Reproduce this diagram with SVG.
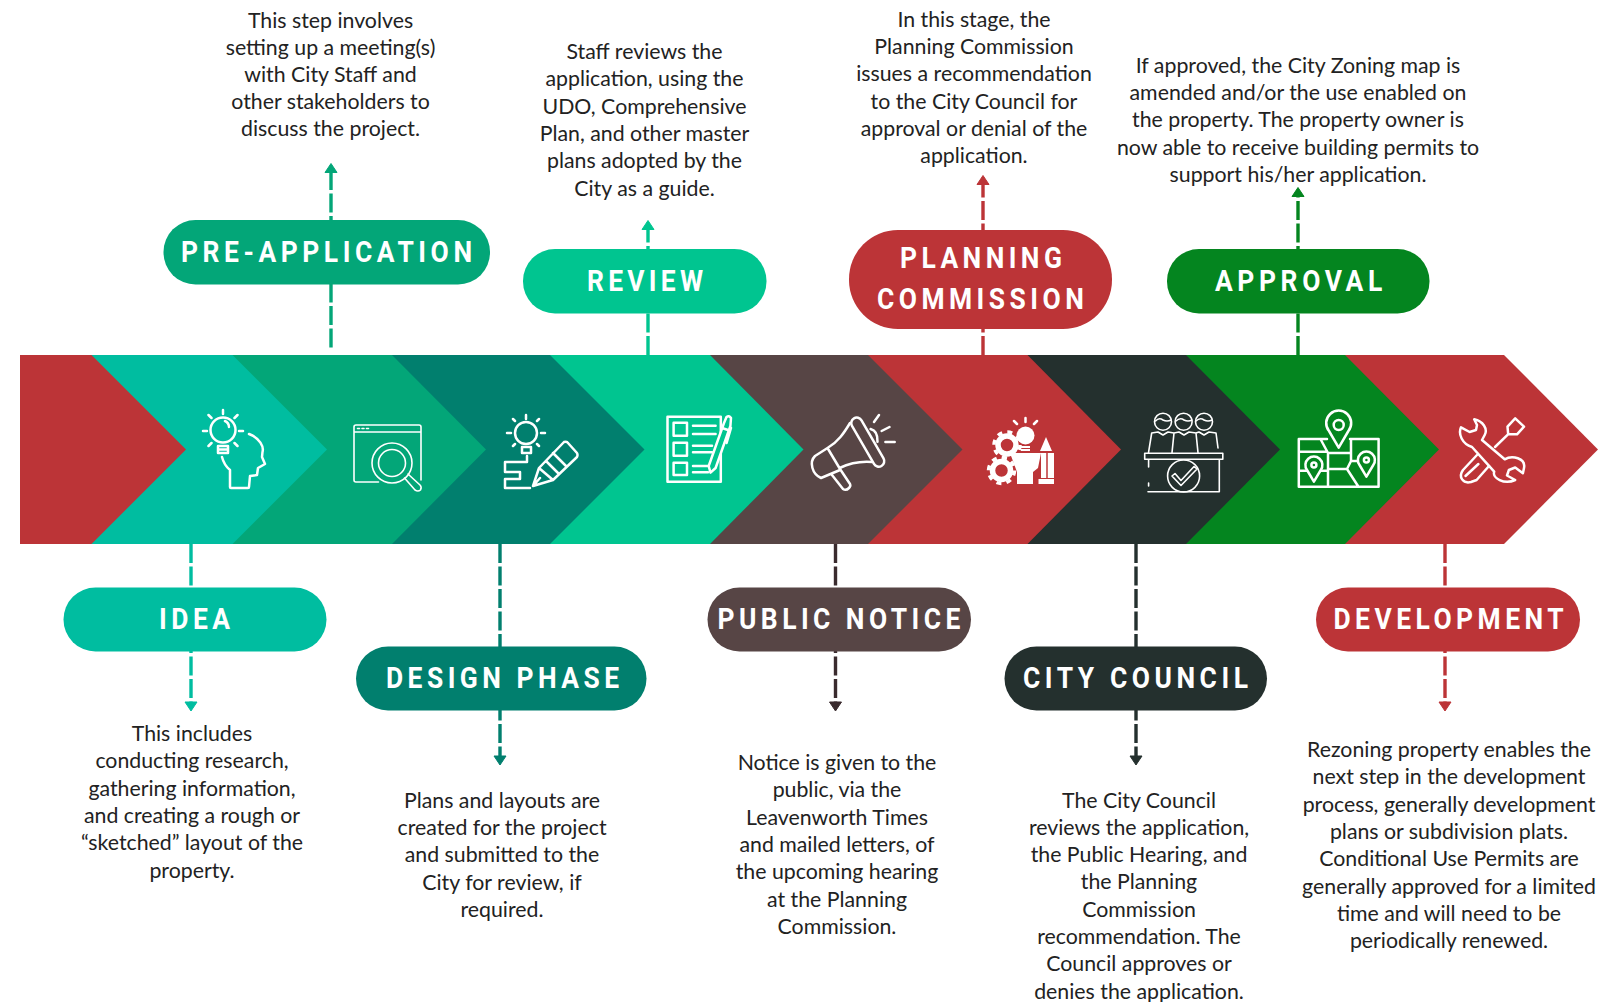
<svg xmlns="http://www.w3.org/2000/svg" width="1609" height="1002" viewBox="0 0 1609 1002">
<defs>
<marker id="a-teal" markerUnits="userSpaceOnUse" markerWidth="14" markerHeight="15" refX="1" refY="7.500" orient="auto"><path class="h" d="M1 1.500L10 7.500L1 13.500Z" fill="#00BDA0" stroke="#00BDA0"/></marker>
<marker id="a-green" markerUnits="userSpaceOnUse" markerWidth="14" markerHeight="15" refX="1" refY="7.500" orient="auto"><path class="h" d="M1 1.500L10 7.500L1 13.500Z" fill="#03A678" stroke="#03A678"/></marker>
<marker id="a-dteal" markerUnits="userSpaceOnUse" markerWidth="14" markerHeight="15" refX="1" refY="7.500" orient="auto"><path class="h" d="M1 1.500L10 7.500L1 13.500Z" fill="#017F6E" stroke="#017F6E"/></marker>
<marker id="a-lgreen" markerUnits="userSpaceOnUse" markerWidth="14" markerHeight="15" refX="1" refY="7.500" orient="auto"><path class="h" d="M1 1.500L10 7.500L1 13.500Z" fill="#00C590" stroke="#00C590"/></marker>
<marker id="a-brown" markerUnits="userSpaceOnUse" markerWidth="14" markerHeight="15" refX="1" refY="7.500" orient="auto"><path class="h" d="M1 1.500L10 7.500L1 13.500Z" fill="#3A2B2E" stroke="#3A2B2E"/></marker>
<marker id="a-red" markerUnits="userSpaceOnUse" markerWidth="14" markerHeight="15" refX="1" refY="7.500" orient="auto"><path class="h" d="M1 1.500L10 7.500L1 13.500Z" fill="#BC3437" stroke="#BC3437"/></marker>
<marker id="a-dark" markerUnits="userSpaceOnUse" markerWidth="14" markerHeight="15" refX="1" refY="7.500" orient="auto"><path class="h" d="M1 1.500L10 7.500L1 13.500Z" fill="#24302E" stroke="#24302E"/></marker>
<marker id="a-fgreen" markerUnits="userSpaceOnUse" markerWidth="14" markerHeight="15" refX="1" refY="7.500" orient="auto"><path class="h" d="M1 1.500L10 7.500L1 13.500Z" fill="#04851F" stroke="#04851F"/></marker>
</defs>
<style>
.h{stroke-width:1;stroke-linejoin:round}
.c{fill:none;stroke-width:3.400;stroke-dasharray:19 3.500}
.l{font-family:Roboto,"Liberation Sans",sans-serif;font-weight:700;font-size:30px;fill:#fff}
.b{font-family:Lato,"Liberation Sans",sans-serif;font-size:21.300px;fill:#222;text-anchor:middle}
.i{fill:none;stroke:#fff;stroke-width:2.500;stroke-linecap:round;stroke-linejoin:round}
.t{stroke-width:1.600}
.w{fill:#fff;stroke:none}
</style>
<rect width="1609" height="1002" fill="#fff"/>
<g id="band">
<polygon points="20,355 1504,355 1598,449.500 1504,544 20,544" fill="#BC3437"/>
<polygon points="20,355 1345,355 1439,449.500 1345,544 20,544" fill="#04851F"/>
<polygon points="20,355 1186,355 1280,449.500 1186,544 20,544" fill="#24302E"/>
<polygon points="20,355 1027.500,355 1121,449.500 1027.500,544 20,544" fill="#BC3437"/>
<polygon points="20,355 868,355 962.500,449.500 868,544 20,544" fill="#574545"/>
<polygon points="20,355 710,355 803.500,449.500 710,544 20,544" fill="#00C590"/>
<polygon points="20,355 550,355 644.500,449.500 550,544 20,544" fill="#017F6E"/>
<polygon points="20,355 392,355 486,449.500 392,544 20,544" fill="#03A678"/>
<polygon points="20,355 232.500,355 327,449.500 232.500,544 20,544" fill="#00BDA0"/>
<polygon points="20,355 91.500,355 186,449.500 91.500,544 20,544" fill="#BC3437"/>
</g>
<g id="connectors">
<line class="c" x1="191" y1="544" x2="191" y2="702" stroke="#00BDA0" marker-end="url(#a-teal)"/>
<line class="c" x1="331" y1="347.500" x2="331" y2="172.500" stroke="#03A678" marker-end="url(#a-green)"/>
<line class="c" x1="500" y1="544" x2="500" y2="756" stroke="#017F6E" marker-end="url(#a-dteal)"/>
<line class="c" x1="648" y1="355" x2="648" y2="229.500" stroke="#00C590" marker-end="url(#a-lgreen)"/>
<line class="c" x1="835.500" y1="544" x2="835.500" y2="702" stroke="#3A2B2E" marker-end="url(#a-brown)"/>
<line class="c" x1="983" y1="355" x2="983" y2="184.500" stroke="#BC3437" marker-end="url(#a-red)"/>
<line class="c" x1="1136" y1="544" x2="1136" y2="756" stroke="#24302E" marker-end="url(#a-dark)"/>
<line class="c" x1="1298" y1="355" x2="1298" y2="196.500" stroke="#04851F" marker-end="url(#a-fgreen)"/>
<line class="c" x1="1445" y1="544" x2="1445" y2="702" stroke="#BC3437" marker-end="url(#a-red)"/>
</g>
<g id="idea">
<rect x="63.500" y="587.500" width="263" height="64" rx="32" fill="#00BDA0"/>
<text class="l" transform="translate(159 629) scale(.88 1)" textLength="80.700">IDEA</text>
<g class="i"><circle cx="223" cy="430" r="12.500"/><path d="M218 446h10v7h-10zM218 449.500h10M225 421a7 7 0 0 1 4 6M223 410v4M207 431h-4M239 431h4M211.500 418l-3-3M234.500 418l3-3M211.500 443l-3 3M234.500 443l3 3M249 434C260 438 264 447 262.500 452L262 457L265 464L258 468L257 475L250 476L249 487Q249 488 248 488H231Q230 488 230 487V470Q224 465 222 457"/></g>
<text class="b" x="192" y="741">This includes<tspan x="192" dy="27.350">conducting research,</tspan><tspan x="192" dy="27.350">gathering information,</tspan><tspan x="192" dy="27.350">and creating a rough or</tspan><tspan x="192" dy="27.350">“sketched” layout of the</tspan><tspan x="192" dy="27.350">property.</tspan></text>
</g>
<g id="pre-application">
<rect x="163.500" y="220" width="326.500" height="64.500" rx="32" fill="#03A678"/>
<text class="l" transform="translate(181 262) scale(.88 1)" textLength="330.700">PRE-APPLICATION</text>
<g class="i t"><path d="M378.500 482H356Q354 482 354 480V427Q354 425 356 425H419Q421 425 421 427V480M354 432H421M357.500 428.500h2M362 428.500h2M366.500 428.500h2"/><circle cx="392" cy="463" r="20"/><circle cx="392" cy="463" r="13.500"/><path d="M404.500 478L415 490Q418 492 420.500 490Q422 487 420 485L408 474"/></g>
<text class="b" x="330.500" y="27.500">This step involves<tspan x="330.500" dy="27.200">setting up a meeting(s)</tspan><tspan x="330.500" dy="27.200">with City Staff and</tspan><tspan x="330.500" dy="27.200">other stakeholders to</tspan><tspan x="330.500" dy="27.200">discuss the project.</tspan></text>
</g>
<g id="design-phase">
<rect x="356" y="646.500" width="290.500" height="64" rx="32" fill="#017F6E"/>
<text class="l" transform="translate(386 688) scale(.88 1)" textLength="264.800">DESIGN PHASE</text>
<g class="i"><circle cx="526" cy="433" r="11"/><path d="M522 447h9v6h-9zM526 415v4M511 433h-4M541 433h4M515 421l-2-2M537 421l2-2M515 444l-2 2M537 444l2 2M527 456v6H505v10h15v7H505v9h25M533 486L539 468L564 442Q567 441 568 443L577 453Q578 455 577 457L553 480ZM533 486L540 478M539 468L553 480M546 461L558 473M553 453L566 466"/></g>
<text class="b" x="502" y="807.500">Plans and layouts are<tspan x="502" dy="27.350">created for the project</tspan><tspan x="502" dy="27.350">and submitted to the</tspan><tspan x="502" dy="27.350">City for review, if</tspan><tspan x="502" dy="27.350">required.</tspan></text>
</g>
<g id="review">
<rect x="523" y="249" width="243.500" height="64.500" rx="32" fill="#00C590"/>
<text class="l" transform="translate(587 291) scale(.88 1)" textLength="131.800">REVIEW</text>
<g class="i" stroke-width="2"><path d="M667.500 416.700H720.800V481.700H667.500ZM673.600 422.700H687V435.700H673.600ZM673.600 442.700H687V455.700H673.600ZM673.600 462.700H687V475H673.600ZM693 425.700H715.600M693 434H715.600M693 445.700H712M693 452.300H712M693 466H708M693 472.300H708"/><path fill="#00C590" d="M708.700 466L724 423L726.500 417Q729 415 731 418L730.400 426L715.600 468L710.500 472.700Z"/><path d="M731 428L726.600 443M722 428L728 430"/></g>
<text class="b" x="644.500" y="59">Staff reviews the<tspan x="644.500" dy="27.350">application, using the</tspan><tspan x="644.500" dy="27.350">UDO, Comprehensive</tspan><tspan x="644.500" dy="27.350">Plan, and other master</tspan><tspan x="644.500" dy="27.350">plans adopted by the</tspan><tspan x="644.500" dy="27.350">City as a guide.</tspan></text>
</g>
<g id="public-notice">
<rect x="707.500" y="587.500" width="263.500" height="64" rx="32" fill="#574545"/>
<text class="l" transform="translate(717.500 629) scale(.88 1)" textLength="276">PUBLIC NOTICE</text>
<g class="i" stroke-width="3"><path d="M850 423C844 433 838 442 827.500 448M872 462C860 461 850 463 839.600 468M827.500 448L840 469M827.500 448L815 456C809 462 812 474 821 478L840 470M832 475L843 489Q846 491 849 488Q851 486 850 484L840 469M870.600 429Q878 431 877.500 441.700M874 422L879 415M881.600 431L889.500 427M885.400 442H894.700"/><rect x="861" y="415" width="11" height="55" rx="5.500" transform="rotate(-30 866.500 440)"/></g>
<text class="b" x="837" y="770">Notice is given to the<tspan x="837" dy="27.350">public, via the</tspan><tspan x="837" dy="27.350">Leavenworth Times</tspan><tspan x="837" dy="27.350">and mailed letters, of</tspan><tspan x="837" dy="27.350">the upcoming hearing</tspan><tspan x="837" dy="27.350">at the Planning</tspan><tspan x="837" dy="27.350">Commission.</tspan></text>
</g>
<g id="planning-commission">
<rect x="849" y="230" width="263" height="99" rx="49" fill="#BC3437"/>
<text class="l" transform="translate(900 268) scale(.88 1)" textLength="184">PLANNING</text>
<text class="l" transform="translate(877 309) scale(.88 1)" textLength="235">COMMISSION</text>
<circle cx="1007" cy="445" r="9" fill="none" stroke="#fff" stroke-width="5.500"/><circle cx="1007" cy="445" r="13" fill="none" stroke="#fff" stroke-width="3.500" stroke-dasharray="5 5.200"/>
<circle cx="1001.500" cy="470.500" r="9" fill="none" stroke="#fff" stroke-width="5.500"/><circle cx="1001.500" cy="470.500" r="13" fill="none" stroke="#fff" stroke-width="3.500" stroke-dasharray="5 5.200"/>
<circle class="w" cx="1025.500" cy="435.500" r="9"/>
<path class="w" d="M1021 446h9v2h-9zM1021 449h9v2h-9zM1010 453H1041L1038 468L1033 472V484H1017V472ZM1046 437L1040 451H1052ZM1041 453H1054V478H1041ZM1038.500 479H1054V484H1038.500Z"/>
<path class="i" d="M1025.500 418v4M1014 421l3 3M1037 421l-3 3"/>
<path d="M1047 453V478" stroke="#BC3437" stroke-width="1.500"/>
<text class="b" x="974" y="27">In this stage, the<tspan x="974" dy="27.200">Planning Commission</tspan><tspan x="974" dy="27.200">issues a recommendation</tspan><tspan x="974" dy="27.200">to the City Council for</tspan><tspan x="974" dy="27.200">approval or denial of the</tspan><tspan x="974" dy="27.200">application.</tspan></text>
</g>
<g id="city-council">
<rect x="1004.500" y="646.500" width="262.500" height="64" rx="32" fill="#24302E"/>
<text class="l" transform="translate(1023 688) scale(.88 1)" textLength="255.700">CITY COUNCIL</text>
<g class="i t"><circle cx="1163" cy="421.700" r="8.500"/><circle cx="1183.600" cy="421.700" r="8.500"/><circle cx="1204" cy="421.700" r="8.500"/><path d="M1155.500 421Q1159 417 1163 420Q1167 422 1171 420M1176 421Q1180 417 1184 420Q1188 422 1192 420M1196 421Q1200 417 1204 420Q1208 422 1212 420M1148.500 452.700L1151.700 433L1158 432L1163 435L1168 432L1174 433L1172 452.700M1174 433L1179 432L1184 435L1189 432L1196 433L1198 452.700M1196 433L1199 432L1204 435L1209 432L1216 433L1218 448M1144.700 453.300H1222.800V459.300H1144.700ZM1148.600 460V467M1148.600 483V486M1148 491.700H1219.300V460"/><circle cx="1183.600" cy="476" r="16"/><path d="M1175 473.500L1181 480.500L1194 466.500L1197 469L1181 485.500L1172 476Z"/></g>
<text class="b" x="1139" y="807.500">The City Council<tspan x="1139" dy="27.300">reviews the application,</tspan><tspan x="1139" dy="27.300">the Public Hearing, and</tspan><tspan x="1139" dy="27.300">the Planning</tspan><tspan x="1139" dy="27.300">Commission</tspan><tspan x="1139" dy="27.300">recommendation. The</tspan><tspan x="1139" dy="27.300">Council approves or</tspan><tspan x="1139" dy="27.300">denies the application.</tspan></text>
</g>
<g id="approval">
<rect x="1167" y="249" width="262.500" height="64.500" rx="32" fill="#04851F"/>
<text class="l" transform="translate(1215 291) scale(.88 1)" textLength="190">APPROVAL</text>
<g class="i"><path d="M1327 439H1298.800V486.700H1378.600V439H1350M1298.800 451.700H1326M1321 440L1328 453V486M1328 453H1350M1351 440V461L1347 469H1328M1347 469L1358 486M1351 461H1359M1298.800 470.700H1328"/><path fill="#04851F" d="M1338.700 447.700L1329 431A12.500 12.500 0 1 1 1348.400 431Z"/><circle cx="1338.700" cy="425" r="5"/><path fill="#04851F" d="M1313.900 481.700L1307 470A8.500 8.500 0 1 1 1320.800 470Z"/><circle cx="1313.900" cy="465" r="2.500"/><path fill="#04851F" d="M1366.400 476.700L1359.500 465A8.500 8.500 0 1 1 1373.300 465Z"/><circle cx="1366.400" cy="460" r="2.500"/></g>
<text class="b" x="1298" y="72.700">If approved, the City Zoning map is<tspan x="1298" dy="27.300">amended and/or the use enabled on</tspan><tspan x="1298" dy="27.300">the property. The property owner is</tspan><tspan x="1298" dy="27.300">now able to receive building permits to</tspan><tspan x="1298" dy="27.300">support his/her application.</tspan></text>
</g>
<g id="development">
<rect x="1316" y="587.500" width="264" height="64" rx="32" fill="#BC3437"/>
<text class="l" transform="translate(1333.500 629) scale(.88 1)" textLength="261.400">DEVELOPMENT</text>
<g class="i"><path d="M1474.200 419.300C1483 421 1488 429 1484.700 435L1482 440L1504.700 459.300C1512 455 1526 458 1524 468L1522.900 473.300L1515.200 467.500L1508.900 470L1507 475.500L1515.200 480C1504 485 1492 478 1494.200 471.700L1472 447C1462 444 1458 434 1461 427.300L1469.600 432L1476 430L1477 425Z"/><path d="M1508 434.300L1495 447M1477 455L1463 470C1458 477 1463 484 1471 482L1476.600 480L1489 466M1465.500 476L1478.400 464M1515.200 418.300L1524 426.700L1517 434.300H1508.200L1507.500 426.700Z"/></g>
<text class="b" x="1449" y="757">Rezoning property enables the<tspan x="1449" dy="27.300">next step in the development</tspan><tspan x="1449" dy="27.300">process, generally development</tspan><tspan x="1449" dy="27.300">plans or subdivision plats.</tspan><tspan x="1449" dy="27.300">Conditional Use Permits are</tspan><tspan x="1449" dy="27.300">generally approved for a limited</tspan><tspan x="1449" dy="27.300">time and will need to be</tspan><tspan x="1449" dy="27.300">periodically renewed.</tspan></text>
</g>
</svg>
